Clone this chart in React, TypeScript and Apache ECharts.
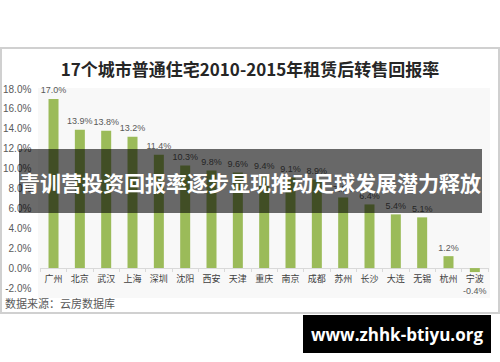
import React, { useEffect, useRef } from "react";
import * as echarts from "echarts";

const categories = ["广州", "北京", "武汉", "上海", "深圳", "沈阳", "西安", "天津", "重庆", "南京", "成都", "苏州", "长沙", "大连", "无锡", "杭州", "宁波"];
const values = [17.0, 13.9, 13.8, 13.2, 11.4, 10.3, 9.8, 9.6, 9.4, 9.1, 8.9, 7.1, 6.4, 5.4, 5.1, 1.2, -0.4];
const titleText = "17个城市普通住宅2010-2015年租赁后转售回报率";
const sourceText = "数据来源：云房数据库";
const bannerText = "青训营投资回报率逐步显现推动足球发展潜力释放";
const siteText = "www.zhhk-btiyu.org";

const FONT = '"Liberation Sans", "Noto Sans CJK SC", sans-serif';
const CJK = '"Noto Sans CJK SC", "Liberation Sans", sans-serif';

export default function App() {
  const ref = useRef<HTMLDivElement>(null);
  useEffect(() => {
    if (!ref.current) return;
    const chart = echarts.init(ref.current, null, { renderer: "svg" });
    chart.setOption({
      animation: false,
      backgroundColor: "#ffffff",
      title: {
        text: titleText,
        left: "center",
        top: 60,
        padding: 0,
        textStyle: { fontFamily: CJK, fontSize: 17, fontWeight: "bold", color: "#262626" },
      },
      grid: { left: 39, right: 12, top: 89, bottom: 74, containLabel: false },
      xAxis: {
        type: "category",
        data: categories,
        offset: -20,
        axisLine: { onZero: false, lineStyle: { color: "#d9d9d9", width: 1 } },
        axisTick: { show: true, length: 4, lineStyle: { color: "#d9d9d9" } },
        axisLabel: { fontFamily: CJK, fontSize: 9, color: "#404040", margin: 6, interval: 0 },
      },
      yAxis: {
        type: "value",
        min: -2,
        max: 18,
        interval: 2,
        splitLine: { show: false },
        axisLine: { show: false },
        axisTick: { show: false },
        axisLabel: {
          fontFamily: FONT,
          fontSize: 10,
          color: "#595959",
          margin: 9,
          formatter: (v: number) => v.toFixed(1) + "%",
        },
      },
      series: [
        {
          type: "bar",
          barWidth: 10,
          itemStyle: { color: "#9bbb59" },
          label: {
            show: true,
            position: "top",
            distance: 4,
            fontFamily: FONT,
            fontSize: 9,
            color: "#595959",
            formatter: (p: any) => Number(p.value).toFixed(1) + "%",
          },
          data: values.map((v) =>
            v < 0 ? { value: v, label: { position: "bottom", distance: 14 } } : v
          ),
        },
      ],
      graphic: [
        {
          type: "rect",
          z: -10,
          shape: { x: 38, y: 88, width: 452, height: 210 },
          style: { fill: "#f8f8f8" },
        },
        {
          type: "rect",
          z: 50,
          shape: { x: 1, y: 48, width: 498, height: 265 },
          style: { fill: "none", stroke: "#d0d0d0", lineWidth: 2 },
        },
        {
          type: "text",
          z: 50,
          x: 5,
          y: 297,
          style: { text: sourceText, fontFamily: CJK, fontSize: 11, fill: "#595959" },
        },
        {
          type: "rect",
          z: 100,
          shape: { x: 19, y: 149, width: 463, height: 64 },
          style: { fill: "rgba(0,0,0,0.58)" },
        },
        {
          type: "text",
          z: 101,
          x: 250,
          y: 182,
          style: {
            text: bannerText,
            fontFamily: CJK,
            fontSize: 21,
            fontWeight: "bold",
            fill: "#ffffff",
            align: "center",
            verticalAlign: "middle",
          },
        },
        {
          type: "rect",
          z: 100,
          shape: { x: 303, y: 315, width: 188, height: 38 },
          style: { fill: "#000000" },
        },
        {
          type: "text",
          z: 101,
          x: 397,
          y: 334,
          style: {
            text: siteText,
            fontFamily: '"Open Sans", "DejaVu Sans", sans-serif',
            fontSize: 17,
            fontWeight: "bold",
            fill: "#ffffff",
            align: "center",
            verticalAlign: "middle",
          },
        },
      ],
    });
    return () => chart.dispose();
  }, []);
  return (
    <div
      ref={ref}
      style={{ position: "fixed", left: 0, top: 0, width: 500, height: 362, background: "#fff" }}
    />
  );
}
